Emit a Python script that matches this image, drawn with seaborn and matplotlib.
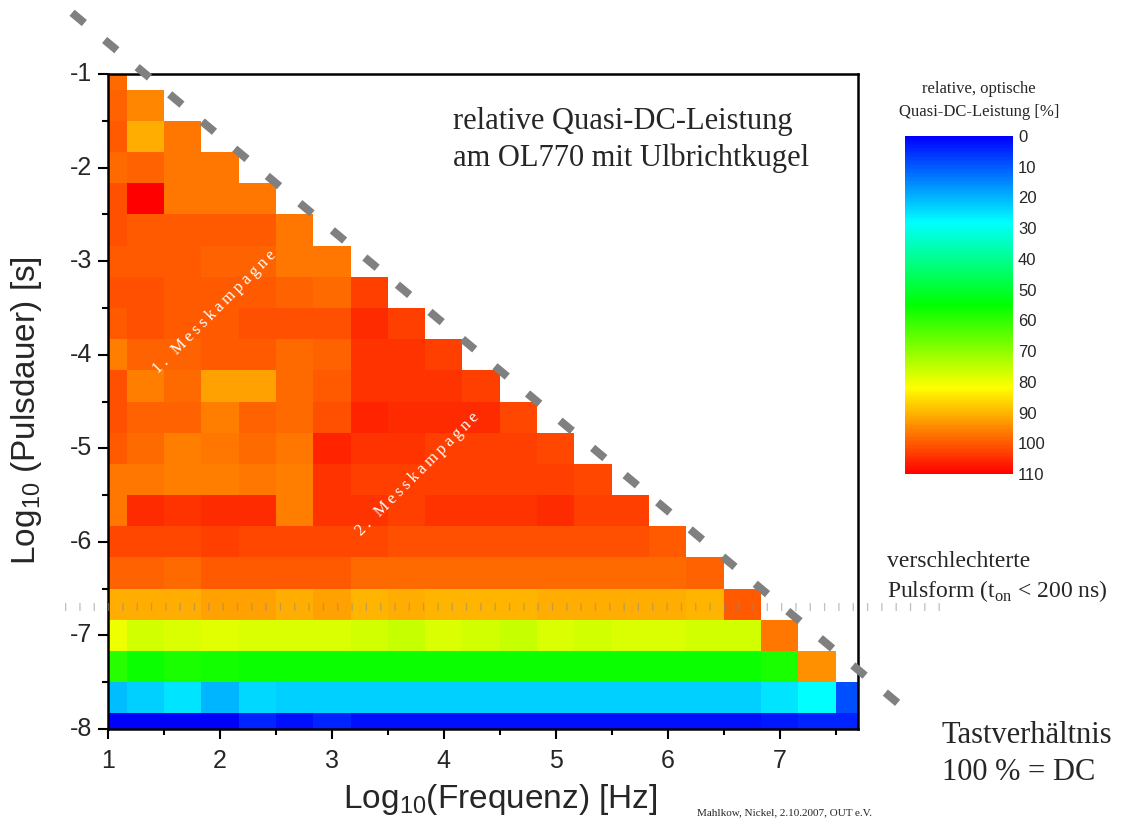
import numpy as np
import pandas as pd
import matplotlib
matplotlib.use("Agg")
import matplotlib.pyplot as plt
from matplotlib.colors import LinearSegmentedColormap
import seaborn as sns

# ---------------------------------------------------------------------------
# Grid: log10 of repetition frequency [Hz] and log10 of pulse duration [s]
# ---------------------------------------------------------------------------
log_freq = [1.0, 1.333, 1.667, 2.0, 2.333, 2.667, 3.0, 3.333, 3.667, 4.0, 4.333,
            4.667, 5.0, 5.333, 5.667, 6.0, 6.333, 6.667, 7.0, 7.333, 7.667]
log_dur = [-1.0, -1.333, -1.667, -2.0, -2.333, -2.667, -3.0, -3.333, -3.667,
           -4.0, -4.333, -4.667, -5.0, -5.333, -5.667, -6.0, -6.333, -6.667,
           -7.0, -7.333, -7.667, -8.0]

# Relative quasi-DC power [%], one list per pulse duration (left to right in frequency)
dur_m1_00 = [98]
dur_m1_33 = [99, 95]
dur_m1_67 = [100, 91, 97]
dur_m2_00 = [98, 99, 97, 97]
dur_m2_33 = [101, 110, 97, 97, 97]
dur_m2_67 = [101, 100, 100, 100, 100, 97]
dur_m3_00 = [100, 100, 100, 99, 99, 97, 97]
dur_m3_33 = [101, 101, 100, 100, 100, 99, 98, 103]
dur_m3_67 = [100, 101, 100, 100, 101, 101, 101, 105, 103]
dur_m4_00 = [96, 99, 99, 100, 100, 98, 99, 104, 104, 103]
dur_m4_33 = [101, 96, 98, 92, 92, 98, 100, 104, 104, 104, 103]
dur_m4_67 = [101, 99, 99, 96, 99, 98, 101, 106, 105, 105, 105, 102]
dur_m5_00 = [100, 98, 96, 97, 98, 97, 106, 104, 104, 103, 103, 103, 102]
dur_m5_33 = [97, 97, 96, 96, 97, 96, 104, 103, 103, 103, 103, 103, 103, 102]
dur_m5_67 = [97, 105, 104, 105, 105, 96, 104, 104, 103, 104, 104, 104, 105, 103, 103]
dur_m6_00 = [102, 102, 102, 103, 102, 102, 102, 102, 101, 101, 101, 101, 101, 101, 101, 100]
dur_m6_33 = [99, 99, 98, 100, 100, 100, 100, 98, 98, 98, 98, 98, 98, 98, 98, 98, 99]
dur_m6_67 = [91, 91, 91, 92, 92, 91, 92, 90, 91, 90, 90, 90, 91, 91, 91, 91, 90, 100]
dur_m7_00 = [80, 77, 78, 79, 78, 78, 78, 77, 76, 78, 77, 76, 78, 77, 78, 78, 77, 77, 97]
dur_m7_33 = [59, 56, 58, 57, 56, 56, 56, 56, 56, 56, 56, 56, 56, 56, 56, 56, 56, 56, 58, 94]
dur_m7_67 = [21, 23, 25, 20, 24, 23, 23, 23, 23, 23, 23, 23, 23, 23, 23, 23, 23, 23, 25, 28, 9]
dur_m8_00 = [0, 0, 0, 0, 4, 2, 4, 2, 2, 2, 2, 2, 2, 2, 2, 2, 2, 2, 3, 4, 4]

x_ticks = [1, 2, 3, 4, 5, 6, 7]
y_ticks = [-1, -2, -3, -4, -5, -6, -7, -8]
cbar_ticks = [0, 10, 20, 30, 40, 50, 60, 70, 80, 90, 100, 110]

t_on_limit = 200e-9  # pulse shape degrades below this on-time

rows = [dur_m1_00, dur_m1_33, dur_m1_67, dur_m2_00, dur_m2_33, dur_m2_67,
        dur_m3_00, dur_m3_33, dur_m3_67, dur_m4_00, dur_m4_33, dur_m4_67,
        dur_m5_00, dur_m5_33, dur_m5_67, dur_m6_00, dur_m6_33, dur_m6_67,
        dur_m7_00, dur_m7_33, dur_m7_67, dur_m8_00]
matrix = np.full((len(log_dur), len(log_freq)), np.nan)
for i, r in enumerate(rows):
    matrix[i, :len(r)] = r
df = pd.DataFrame(matrix, index=log_dur, columns=log_freq)

# ---------------------------------------------------------------------------
sns.set_style("ticks")
plt.rcParams["font.family"] = ["Liberation Sans", "DejaVu Sans"]
plt.rcParams["axes.unicode_minus"] = False
SERIF = ["Liberation Serif", "DejaVu Serif"]

W, H = 1128, 827
fig = plt.figure(figsize=(W / 100, H / 100), dpi=100)
fig.patch.set_facecolor("white")


def fx(px):
    return px / W


def fy(py):
    return 1 - py / H


ax = fig.add_axes([fx(108), fy(729), 750 / W, 655 / H])
cax = fig.add_axes([fx(905), fy(474), 108 / W, 338 / H])

cmap = LinearSegmentedColormap.from_list(
    "power",
    [(0.0, "#0000ff"), (28 / 110, "#00ffff"), (55 / 110, "#00ff00"),
     (82 / 110, "#ffff00"), (1.0, "#ff0000")])

sns.heatmap(df, ax=ax, cmap=cmap, vmin=0, vmax=110, cbar_ax=cax,
            xticklabels=False, yticklabels=False)

step_x = (log_freq[-1] - log_freq[0]) / (len(log_freq) - 1)
step_y = (log_dur[0] - log_dur[-1]) / (len(log_dur) - 1)


def hx(x):
    return (x - log_freq[0]) / step_x + 0.5


def hy(y):
    return (log_dur[0] - y) / step_y + 0.5


ax.set_xlim(hx(1.0), hx(7.7))
ax.set_ylim(hy(-8.0), hy(-1.0))

ax.set_xticks([hx(v) for v in x_ticks])
ax.set_xticklabels([str(v) for v in x_ticks], rotation=0)
ax.set_xticks([hx(v + 0.5) for v in x_ticks], minor=True)
ax.set_yticks([hy(v) for v in y_ticks])
ax.set_yticklabels([str(v) for v in y_ticks], rotation=0, va="center")
ax.set_yticks([hy(v - 0.5) for v in y_ticks[:-1]], minor=True)

for s in ax.spines.values():
    s.set_visible(True)
    s.set_linewidth(1.8)
    s.set_color("black")
ax.tick_params(which="major", direction="out", length=7.2, width=1.5,
               labelsize=18, color="black")
ax.tick_params(which="minor", direction="out", length=4.3, width=1.5, color="black")
ax.tick_params(axis="x", which="major", pad=7)
ax.tick_params(axis="y", which="major", pad=4)
ax.tick_params(top=False, right=False, which="both")

ax.set_xlabel(r"Log$_{\mathregular{10}}$(Frequenz) [Hz]", fontsize=24)
ax.set_ylabel(r"Log$_{\mathregular{10}}$ (Pulsdauer) [s]", fontsize=24)
ax.xaxis.set_label_coords((500 - 108) / 750, (729 - 782) / 655)
ax.yaxis.set_label_coords((44 - 108) / 750, (729 - 411) / 655)

# Colorbar: 0 at the top, 110 at the bottom
cbar = ax.collections[0].colorbar
cbar.outline.set_visible(False)
cbar.set_ticks(cbar_ticks)
cax.invert_yaxis()
cax.tick_params(length=0, labelsize=12, pad=3.6)

# 100 % duty-cycle boundary (pulse duration = period), drawn just outside the grid
x0, x1 = 0.679, 8.16
offset = 1 / 3
ax.plot([hx(x0), hx(x1)], [hy(-x0 + offset), hy(-x1 + offset)],
        color="#808080", lw=5.76, linestyle=(0, (2.0, 3.3)),
        dash_capstyle="butt", clip_on=False, zorder=6)

# Limit of degraded pulse shape (t_on < 200 ns)
y_lim = np.log10(t_on_limit)
ax.plot([hx(0.62), hx(8.47)], [hy(y_lim), hy(y_lim)],
        color="#8c8c8c", alpha=0.55, lw=5.76, linestyle=(0, (0.16, 1.63)),
        dash_capstyle="butt", clip_on=False, zorder=5)

# Campaign labels inside the map
label_1 = "\u2009".join("1. Messkampagne")
label_2 = "\u2009".join("2. Messkampagne")
ax.text(hx(1.955), hy(-3.543), label_1, color="white", family=SERIF, fontsize=12,
        rotation=45, rotation_mode="anchor", ha="center", va="center", zorder=7)
ax.text(hx(3.768), hy(-5.274), label_2, color="white", family=SERIF, fontsize=12,
        rotation=45, rotation_mode="anchor", ha="center", va="center", zorder=7)

# Title block inside the plot
fig.text(fx(453), fy(129), "relative Quasi-DC-Leistung", family=SERIF,
         fontsize=22, ha="left", va="baseline")
fig.text(fx(453), fy(166), "am OL770 mit Ulbrichtkugel", family=SERIF,
         fontsize=22, ha="left", va="baseline")

# Colorbar title
fig.text(fx(979), fy(93), "relative, optische", family=SERIF, fontsize=12,
         ha="center", va="baseline")
fig.text(fx(979), fy(116), "Quasi-DC-Leistung [%]", family=SERIF, fontsize=12,
         ha="center", va="baseline")

# Notes on the right
fig.text(fx(887), fy(567), "verschlechterte", family=SERIF, fontsize=17,
         ha="left", va="baseline")
fig.text(fx(887), fy(597), r"Pulsform (t$_{\mathregular{on}}$ < 200 ns)",
         family=SERIF, fontsize=17, ha="left", va="baseline")
fig.text(fx(942), fy(743), "Tastverhältnis", family=SERIF, fontsize=22,
         ha="left", va="baseline")
fig.text(fx(942), fy(780), "100 % = DC", family=SERIF, fontsize=22,
         ha="left", va="baseline")
fig.text(fx(697), fy(815), "Mahlkow, Nickel, 2.10.2007, OUT e.V.", family=SERIF,
         fontsize=8, ha="left", va="baseline")

fig.savefig("out.png", dpi=100, facecolor="white")
